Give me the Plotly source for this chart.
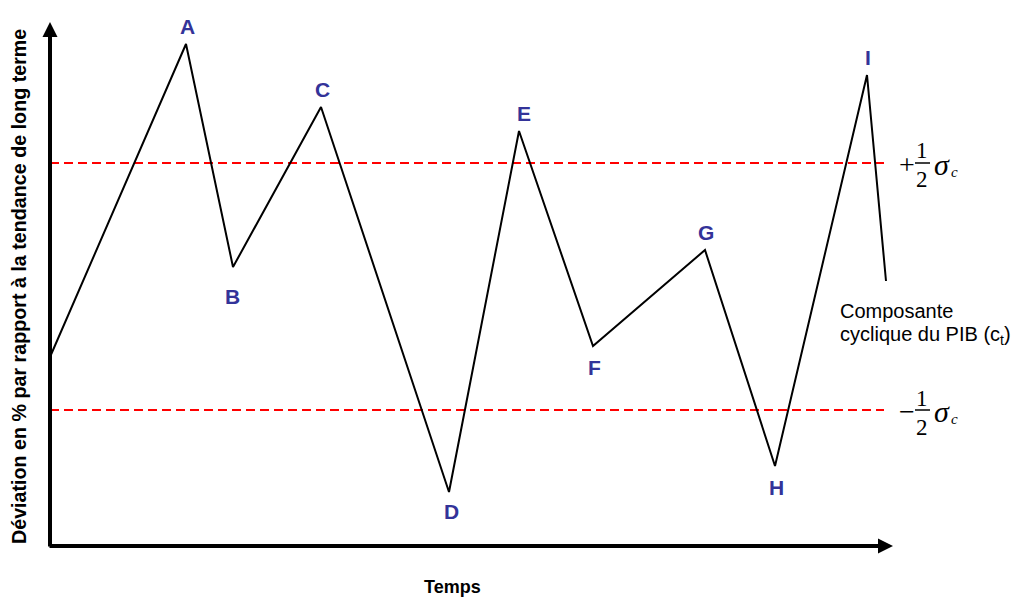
import plotly.graph_objects as go

# Time (arbitrary units along the axis) and deviation from trend
temps = [0, 136, 183, 271, 399, 469, 543, 655, 725, 817, 836]
deviation = [189, 502, 279, 439, 54, 415, 200, 296, 80, 471, 265]
point_names = ["", "A", "B", "C", "D", "E", "F", "G", "H", "I", ""]

# +/- 1/2 sigma bands
sigma_up = 383
sigma_down = 136
band_end = 834

X_MAX = 843
Y_MAX = 524
BLUE = "#333399"

# label nudges (pixels) where the default above/below offset looks off
label_nudge = {"B": (-2, -8), "D": (1, 2), "E": (4, 0)}

fig = go.Figure()

# dashed red reference lines
for level in (sigma_up, sigma_down):
    fig.add_trace(go.Scatter(
        x=[0, band_end], y=[level, level], mode="lines",
        line=dict(color="red", width=2, dash="9px,5px"),
        hoverinfo="skip", showlegend=False,
    ))

# the cyclical component
fig.add_trace(go.Scatter(
    x=temps, y=deviation, mode="lines",
    line=dict(color="black", width=2),
    showlegend=False,
))

annotations = []

# point labels, above for peaks and below for troughs
for i, name in enumerate(point_names):
    if not name:
        continue
    peak = deviation[i] > deviation[i - 1]
    dx, dy = label_nudge.get(name, (0, 0))
    annotations.append(dict(
        x=temps[i], y=deviation[i], text="<b>%s</b>" % name,
        showarrow=False, font=dict(family="Liberation Sans", size=21, color=BLUE),
        yshift=(18 if peak else -21) + dy, xshift=1 + dx,
    ))

# axes drawn as arrows
axis_arrow = dict(text="", showarrow=True, arrowhead=2, arrowsize=0.75,
                  arrowwidth=4, arrowcolor="black", xref="x", yref="y",
                  axref="x", ayref="y", standoff=0, startstandoff=0)
annotations.append(dict(axis_arrow, x=0, y=Y_MAX, ax=0, ay=-2))
annotations.append(dict(axis_arrow, x=X_MAX, y=0, ax=-2, ay=0))

# sigma labels: sign, fraction 1/2, sigma_c
serif = dict(family="Liberation Serif", size=23, color="black")
for level, sign, up in ((sigma_up, "+", 1), (sigma_down, "\u2212", 0)):
    annotations += [
        dict(x=857, y=level, text=sign, showarrow=False,
             font=dict(serif, size=28), yshift=-1),
        dict(x=872, y=level, text="1", showarrow=False, font=serif, yshift=12 + up),
        dict(x=872, y=level, text="2", showarrow=False, font=serif, yshift=-17 + up),
        dict(x=892, y=level, text="<i>\u03c3</i>", showarrow=False,
             font=dict(serif, size=30), yshift=-1),
        dict(x=904, y=level, text="<i>c</i>", showarrow=False,
             font=dict(family="Liberation Serif", size=15, color="black"), yshift=-9),
    ]
    fig.add_shape(type="line", x0=865, x1=880, y0=level, y1=level,
                  xref="x", yref="y", line=dict(color="black", width=1.5))

# series caption
caption = dict(family="Liberation Sans", size=20, color="black")
annotations.append(dict(x=788, y=235, xanchor="left", text="Composante",
                        showarrow=False, font=caption))
annotations.append(dict(x=788, y=211, xanchor="left",
                        text="cyclique du PIB (c<sub>t</sub>)",
                        showarrow=False, font=caption))

# axis titles
annotations.append(dict(
    x=-31, y=259, textangle=-90,
    text="<b>Déviation en % par rapport à la tendance de long terme</b>",
    showarrow=False, font=dict(family="Liberation Sans", size=19.7, color="black"),
))
annotations.append(dict(
    x=402, y=-41,
    text="<b>Temps</b>", showarrow=False,
    font=dict(family="Liberation Sans", size=18, color="black"),
))

# plot area spans the whole page (page body adds an 8px offset) so that
# every label lies inside the axes
fig.update_layout(
    width=1021, height=597,
    margin=dict(l=0, r=0, t=0, b=0, autoexpand=False),
    plot_bgcolor="white", paper_bgcolor="white",
    xaxis=dict(range=[-42, 979], visible=False),
    yaxis=dict(range=[-59, 538], visible=False),
    annotations=annotations,
)

fig.write_html("out.html")
